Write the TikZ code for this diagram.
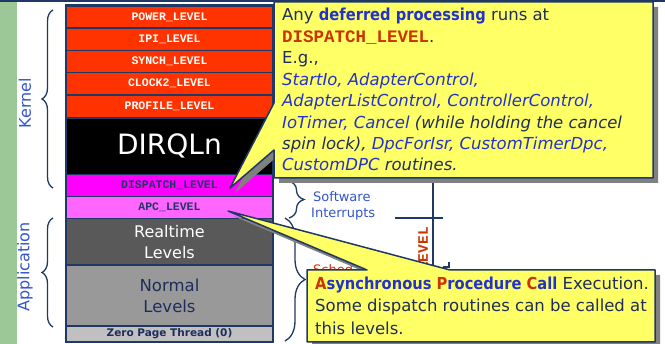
\documentclass[tikz,border=0pt]{standalone}
\usepackage{fontspec}
\setmainfont{DejaVu Sans}
\newfontfamily\cour{Liberation Mono}
\newfontfamily\nsans[FakeStretch=0.89]{DejaVu Sans}
\usetikzlibrary{decorations.pathreplacing}
\definecolor{navy}{RGB}{31,56,100}
\definecolor{lvred}{RGB}{255,51,0}
\definecolor{mag}{RGB}{255,0,255}
\definecolor{lmag}{RGB}{255,102,255}
\definecolor{rtgray}{RGB}{89,89,89}
\definecolor{nmgray}{RGB}{153,153,153}
\definecolor{zpgray}{RGB}{192,192,192}
\definecolor{cyellow}{RGB}{255,255,102}
\definecolor{shadowgray}{RGB}{128,128,128}
\definecolor{tblue}{RGB}{34,51,204}
\definecolor{tnavy}{RGB}{31,45,90}
\definecolor{tred}{RGB}{204,51,0}
\definecolor{lblue}{RGB}{51,85,204}
\definecolor{sidegreen}{RGB}{155,200,150}
\begin{document}
\begin{tikzpicture}[x=1pt,y=-1pt,
  row/.style={draw=navy, line width=1.5pt, minimum width=207pt, inner sep=0pt, text=white},
  lvtxt/.style={font=\cour\bfseries\fontsize{11.5}{12}\selectfont},
  ctext/.style={anchor=base west, inner sep=0pt, text=tnavy, font=\fontsize{16.5}{20}\selectfont},
  swtext/.style={anchor=base west, inner sep=0pt, text=lblue, font=\fontsize{13}{16}\selectfont},
  brc/.style={draw=navy, line width=1.3pt, decorate},
  callout/.style={fill=cyellow, draw=navy, line width=1.5pt, line join=round},
  sidelabel/.style={rotate=90, text=lblue, inner sep=0pt, font=\fontsize{16}{18}\selectfont}]
\useasboundingbox (0,0) rectangle (665,344);
\clip (0,0) rectangle (665,344);
\fill[white] (0,0) rectangle (665,344);
% left band and top line
\fill[sidegreen] (0,0) rectangle (17,344);
\fill[navy] (0,0) rectangle (665,2.5);
% level stack
\node[row, lvtxt, fill=lvred, minimum height=22pt] (power) at (169.5,17) {POWER\_LEVEL};
\node[row, lvtxt, fill=lvred, minimum height=22.5pt] (ipi) at (169.5,39.25) {IPI\_LEVEL};
\node[row, lvtxt, fill=lvred, minimum height=22pt] (synch) at (169.5,61.5) {SYNCH\_LEVEL};
\node[row, lvtxt, fill=lvred, minimum height=22.5pt] (clock) at (169.5,83.75) {CLOCK2\_LEVEL};
\node[row, lvtxt, fill=lvred, minimum height=23pt] (profile) at (169.5,106.5) {PROFILE\_LEVEL};
\node[row, fill=black, minimum height=56.5pt, font=\fontsize{28}{30}\selectfont] (dirql) at (169.5,146.25) {DIRQLn};
\node[row, lvtxt, fill=mag, text=navy, minimum height=22pt] (dispatch) at (169.5,185.5) {DISPATCH\_LEVEL};
\node[row, lvtxt, fill=lmag, text=navy, minimum height=22pt] (apc) at (169.5,207.5) {APC\_LEVEL};
\node[row, fill=rtgray, minimum height=46.5pt, align=center, font=\fontsize{16}{21}\selectfont] (realtime) at (169.5,241.75) {Realtime\\Levels};
\node[row, fill=nmgray, text=tnavy, minimum height=61pt, align=center, font=\fontsize{16.5}{21}\selectfont] (normal) at (169.5,295.5) {Normal\\Levels};
\node[row, fill=zpgray, text=tnavy, minimum height=16pt, font=\bfseries\fontsize{10.5}{12}\selectfont] (zero) at (169.5,334) {Zero Page Thread (0)};
\draw[navy, line width=2pt] (66,5.5) rectangle (273,342);
% left braces and labels
\draw[brc, decoration={brace, amplitude=11pt}] (53,188) -- (53,10);
\draw[brc, decoration={brace, amplitude=11pt}] (53,327) -- (53,218);
\node[sidelabel] (kernel) at (25,103) {Kernel};
\node[sidelabel] (appl) at (25,267) {Application};
% partly hidden right-hand part
\draw[brc, decoration={brace, amplitude=15pt}] (289,181) -- (289,218);
\draw[brc, decoration={brace, amplitude=20pt}] (285,218) -- (285,341);
\node[swtext] (sw1) at (313,202) {Software};
\node[swtext] (sw2) at (311,218) {Interrupts};
\coordinate (vtop) at (433,178);
\coordinate (vbot) at (433,270);
\coordinate (hl) at (395,218);
\coordinate (hr) at (443,218);
\draw[navy, line width=1.5pt] (vtop) -- (vbot);
\draw[navy, line width=1.5pt] (hl) -- (hr);
\draw[navy, line width=1.2pt] (443,267) -- (449,267) -- (449,262);
\node[rotate=90, anchor=east, inner sep=0pt, text=tred, font=\cour\bfseries\fontsize{14.5}{15}\selectfont] (lvlv) at (423,227) {LEVEL};
\begin{scope}
\clip (300,255) rectangle (400,271);
\node[anchor=base west, inner sep=0pt, text=tred, font=\fontsize{13}{14}\selectfont] (sched) at (313,275) {Sched};
\end{scope}
% callout 2 (APC)
\fill[shadowgray, shift={(5,5)}] (307,270) -- (367,270) -- (228,211) -- (450,270) -- (655,270) -- (655,342) -- (307,342) -- cycle;
\draw[callout] (307,270) -- (367,270) -- (228,211) -- (450,270) -- (655,270) -- (655,342) -- (307,342) -- cycle;
\node[ctext] (c2a) at (315,290) {{\nsans\bfseries\color{tred}A\color{tblue}synchronous \color{tred}P\color{tblue}rocedure \color{tred}C\color{tblue}all} Execution.};
\node[ctext] (c2b) at (315,312) {Some dispatch routines can be called at};
\node[ctext] (c2c) at (315,335) {this levels.};
% callout 1 (DPC)
\fill[shadowgray, shift={(5,5)}] (274,2) -- (653,2) -- (653,178) -- (274,178) -- (274,150) -- (230,188) -- (274,103) -- cycle;
\draw[callout] (274,2) -- (653,2) -- (653,178) -- (274,178) -- (274,150) -- (230,188) -- (274,103) -- cycle;
\node[ctext] (c1a) at (282,21) {Any {\nsans\bfseries\color{tblue}deferred processing} runs at};
\node[ctext] (c1b) at (282,43) {{\cour\bfseries\fontsize{17.5}{18}\selectfont\color{tred}DISPATCH\_LEVEL}.};
\node[ctext] (c1c) at (282,64) {E.g.,};
\node[ctext, text=tblue] (c1d) at (282,86) {\itshape StartIo, AdapterControl,};
\node[ctext, text=tblue] (c1e) at (282,107) {\itshape AdapterListControl, ControllerControl,};
\node[ctext] (c1f) at (282,129) {\itshape{\color{tblue}IoTimer, Cancel} (while holding the cancel};
\node[ctext] (c1g) at (282,150) {\itshape spin lock), {\color{tblue}DpcForIsr, CustomTimerDpc,}};
\node[ctext] (c1h) at (282,171) {\itshape{\color{tblue}CustomDPC} routines.};
\end{tikzpicture}
\end{document}
